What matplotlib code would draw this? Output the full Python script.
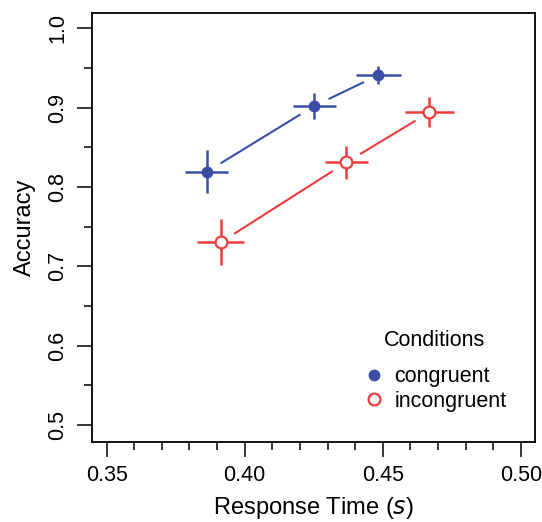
import numpy as np
import matplotlib
matplotlib.use("Agg")
import matplotlib.pyplot as plt
from matplotlib.ticker import MultipleLocator

plt.rcParams['font.family'] = ['Liberation Sans', 'DejaVu Sans']

conditions = ['congruent', 'incongruent']
rt = {'congruent': [0.3863, 0.4251, 0.4484],
      'incongruent': [0.3913, 0.4368, 0.4668]}
rt_err = {'congruent': [0.0078, 0.0078, 0.0083],
          'incongruent': [0.0085, 0.0079, 0.0088]}
acc = {'congruent': [0.8193, 0.9021, 0.9411],
       'incongruent': [0.7303, 0.8311, 0.8941]}
acc_err = {'congruent': [0.027, 0.016, 0.011],
           'incongruent': [0.029, 0.021, 0.019]}

blue = '#3b4ea6'
red = '#ee3b3b'
colors = {'congruent': blue, 'incongruent': red}

fig = plt.figure(figsize=(5.42, 5.22), dpi=100)
ax = fig.add_axes([0.1692, 0.1538, 0.818, 0.8218])
ax.set_xlim(0.3446, 0.5051)
ax.set_ylim(0.479, 1.0197)

gap = 16  # pixels left open around each point on the connecting lines
for c in conditions:
    x = np.array(rt[c])
    y = np.array(acc[c])
    col = colors[c]
    # connecting segments with gaps (like R type="b")
    pts = ax.transData.transform(np.column_stack([x, y]))
    for i in range(len(x) - 1):
        d = np.hypot(*(pts[i + 1] - pts[i]))
        f = gap / d
        xs = [x[i] + f * (x[i + 1] - x[i]), x[i + 1] - f * (x[i + 1] - x[i])]
        ys = [y[i] + f * (y[i + 1] - y[i]), y[i + 1] - f * (y[i + 1] - y[i])]
        ax.plot(xs, ys, color=col, lw=1.5, solid_capstyle='butt')
    ax.errorbar(x, y, xerr=rt_err[c], yerr=acc_err[c], fmt='none',
                ecolor=col, elinewidth=1.8, capsize=0)
    if c == 'congruent':
        ax.plot(x, y, 'o', color=col, ms=7.5, mec=col, label=c)
    else:
        ax.plot(x, y, 'o', mfc='white', mec=col, mew=1.6, ms=8.5, label=c)

ax.xaxis.set_minor_locator(MultipleLocator(0.01))
ax.yaxis.set_minor_locator(MultipleLocator(0.05))
ax.set_xticks([0.35, 0.40, 0.45, 0.50])
ax.set_xticklabels(['0.35', '0.40', '0.45', '0.50'])
ax.set_yticks([0.5, 0.6, 0.7, 0.8, 0.9, 1.0])
ax.set_yticklabels(['0.5', '0.6', '0.7', '0.8', '0.9', '1.0'], rotation=90, va='center')

ax.tick_params(which='major', direction='out', length=11, width=1.1, labelsize=15.5, pad=6)
ax.tick_params(which='minor', direction='out', length=6, width=1.1)
for s in ax.spines.values():
    s.set_linewidth(1.3)

ax.set_xlabel('Response Time ($\\it{s}$)', fontsize=17, labelpad=6)
ax.set_ylabel('Accuracy', fontsize=17, labelpad=8)

leg = ax.legend(title='Conditions', loc='center', bbox_to_anchor=(0.774, 0.165),
                frameon=False, fontsize=15.5, title_fontsize=15.5,
                handletextpad=0.45, handlelength=1.0, labelspacing=0.15)
leg._legend_box.sep = 11  # more room under the title

fig.savefig('out.png', dpi=100)
